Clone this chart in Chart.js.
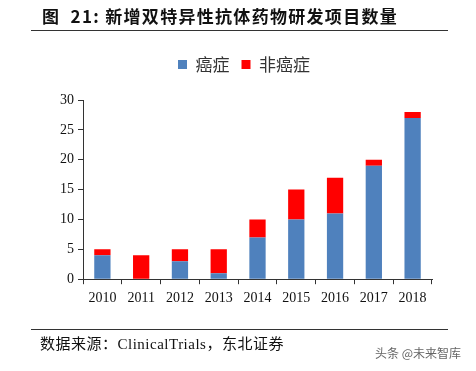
<!DOCTYPE html>
<html>
<head>
<meta charset="utf-8">
<script src="https://cdn.jsdelivr.net/npm/chart.js@4/dist/chart.umd.min.js"></script>
<style>
  body { margin: 0; background: #fff; }
  .wrap { position: relative; width: 476px; height: 371px; overflow: hidden; }
  canvas { position: absolute; left: 0; top: 0; }
  .title { position: absolute; left: 42px; top: 3px; font: bold 17px "Noto Sans CJK SC", serif; color: #111; letter-spacing: 1.3px; white-space: nowrap; }
  .rule { position: absolute; left: 31px; width: 417px; height: 1px; background: #333; }
  .source { position: absolute; left: 40px; top: 332px; font: 15px "Liberation Serif", "Noto Sans CJK SC", serif; color: #111; letter-spacing: 0.5px; white-space: nowrap; }
  .mark { position: absolute; left: 375px; top: 344px; font: 12px "Noto Sans CJK SC", sans-serif; color: #666; white-space: nowrap; }
</style>
</head>
<body>
<div class="wrap">
  <canvas id="chart" width="476" height="371"></canvas>
  <div class="title">图&nbsp;&nbsp;21:&nbsp;新增双特异性抗体药物研发项目数量</div>
  <div class="rule" style="top:30px"></div>
  <div class="rule" style="top:329px"></div>
  <div class="source">数据来源：ClinicalTrials，东北证券</div>
  <div class="mark">头条 @未来智库</div>
</div>
<script>
const years = ["2010", "2011", "2012", "2013", "2014", "2015", "2016", "2017", "2018"];
const cancer = [4, 0, 3, 1, 7, 10, 11, 19, 27];
const nonCancer = [1, 4, 2, 4, 3, 5, 6, 1, 1];
const yTicks = [0, 5, 10, 15, 20, 25, 30];

const serif = "'Liberation Serif', 'Times New Roman', serif";

// leave some extra room under the legend
const legendGap = {
  id: "legendGap",
  beforeInit(chart) {
    const fit = chart.legend.fit;
    chart.legend.fit = function () {
      fit.bind(chart.legend)();
      this.height += 17;
    };
  },
};

new Chart(document.getElementById("chart"), {
  type: "bar",
  data: {
    labels: years,
    datasets: [
      { label: "癌症", data: cancer, backgroundColor: "#4f81bd", barPercentage: 0.42, categoryPercentage: 1 },
      { label: "非癌症", data: nonCancer, backgroundColor: "#ff0000", barPercentage: 0.42, categoryPercentage: 1 },
    ],
  },
  options: {
    responsive: false,
    animation: false,
    layout: { padding: { top: 44, left: 56, right: 44, bottom: 58 } },
    plugins: {
      legend: {
        position: "top",
        labels: {
          boxWidth: 9,
          boxHeight: 9,
          padding: 12,
          color: "#333",
          font: { family: "'Noto Sans CJK SC', sans-serif", size: 17 },
        },
      },
      tooltip: { enabled: false },
    },
    scales: {
      x: {
        stacked: true,
        offset: true,
        grid: { display: true, offset: true, drawOnChartArea: false, tickLength: 5, color: "#333" },
        border: { color: "#333", width: 1 },
        ticks: { color: "#111", font: { family: serif, size: 14 }, padding: 6, maxRotation: 0 },
      },
      y: {
        stacked: true,
        min: 0,
        max: 30,
        afterBuildTicks: (axis) => { axis.ticks = yTicks.map(v => ({ value: v })); },
        grid: { display: true, drawOnChartArea: false, tickLength: 5, color: "#333" },
        border: { color: "#333", width: 1 },
        ticks: { color: "#111", font: { family: serif, size: 14 }, padding: 4 },
      },
    },
  },
  plugins: [legendGap],
});
</script>
</body>
</html>
